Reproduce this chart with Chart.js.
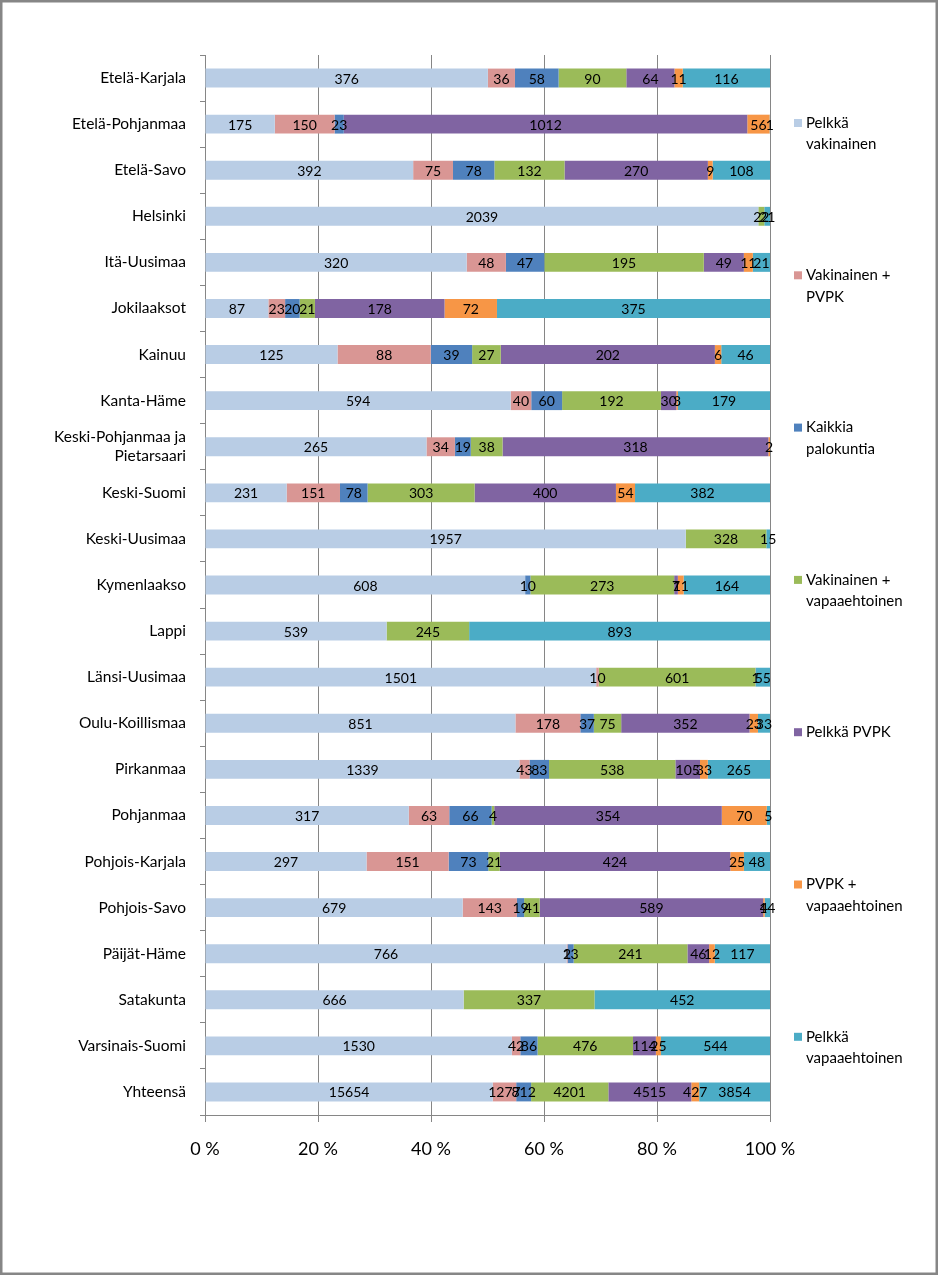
<!DOCTYPE html>
<html>
<head>
<meta charset="utf-8">
<script src="https://cdn.jsdelivr.net/npm/chart.js@4.4.0/dist/chart.umd.min.js"></script>
<style>
  html, body { margin: 0; padding: 0; background: #ffffff; }
  #wrap { position: relative; width: 939px; height: 1276px; }
  canvas { display: block; }
</style>
</head>
<body>
<div id="wrap"><canvas id="c" width="939" height="1276"></canvas></div>
<script>
// ---- Data ----
const categories = [
  "Etelä-Karjala", "Etelä-Pohjanmaa", "Etelä-Savo", "Helsinki", "Itä-Uusimaa",
  "Jokilaaksot", "Kainuu", "Kanta-Häme", ["Keski-Pohjanmaa ja", "Pietarsaari"],
  "Keski-Suomi", "Keski-Uusimaa", "Kymenlaakso", "Lappi", "Länsi-Uusimaa",
  "Oulu-Koillismaa", "Pirkanmaa", "Pohjanmaa", "Pohjois-Karjala", "Pohjois-Savo",
  "Päijät-Häme", "Satakunta", "Varsinais-Suomi", "Yhteensä"
];

const seriesNames = [
  "Pelkkä vakinainen",
  "Vakinainen + PVPK",
  "Kaikkia palokuntia",
  "Vakinainen + vapaaehtoinen",
  "Pelkkä PVPK",
  "PVPK + vapaaehtoinen",
  "Pelkkä vapaaehtoinen"
];

const pelkkaVakinainen = [376, 175, 392, 2039, 320, 87, 125, 594, 265, 231, 1957, 608, 539, 1501, 851, 1339, 317, 297, 679, 766, 666, 1530, 15654];
const vakinainenPvpk = [36, 150, 75, null, 48, 23, 88, 40, 34, 151, null, null, null, 10, 178, 43, 63, 151, 143, 2, null, 42, 1277];
const kaikkiaPalokuntia = [58, 23, 78, null, 47, 20, 39, 60, 19, 78, null, 10, null, null, 37, 83, 66, 73, 19, 13, null, 86, 812];
const vakinainenVapaaehtoinen = [90, null, 132, 22, 195, 21, 27, 192, 38, 303, 328, 273, 245, 601, 75, 538, 4, 21, 41, 241, 337, 476, 4201];
const pelkkaPvpk = [64, 1012, 270, null, 49, 178, 202, 30, 318, 400, null, 7, null, 1, 352, 105, 354, 424, 589, 46, null, 114, 4515];
const pvpkVapaaehtoinen = [11, 56, 9, null, 11, 72, 6, 3, 2, 54, null, 11, null, null, 23, 33, 70, 25, 4, 12, null, 25, 427];
const pelkkaVapaaehtoinen = [116, 1, 108, 21, 21, 375, 46, 179, null, 382, 15, 164, 893, 55, 33, 265, 5, 48, 14, 117, 452, 544, 3854];

const xTicks = [0, 20, 40, 60, 80, 100];

// ---- Styles ----
const colors = ["#B9CDE5", "#D99694", "#4F81BD", "#9BBB59", "#8064A2", "#F79646", "#4BACC6"];
const FONT = "Lato, 'Open Sans', sans-serif";
const GRID = "#868686";

const rawSeries = [pelkkaVakinainen, vakinainenPvpk, kaikkiaPalokuntia, vakinainenVapaaehtoinen, pelkkaPvpk, pvpkVapaaehtoinen, pelkkaVapaaehtoinen];
const totals = categories.map((_, i) => rawSeries.reduce((s, arr) => s + (arr[i] || 0), 0));

const datasets = rawSeries.map((arr, d) => ({
  label: seriesNames[d],
  data: arr.map((v, i) => v == null ? null : v / totals[i] * 100),
  raw: arr,
  backgroundColor: colors[d],
  borderWidth: 0,
  barPercentage: 0.41,
  categoryPercentage: 1.0
}));

// data labels inside segments
const valueLabels = {
  id: 'valueLabels',
  afterDatasetsDraw(chart) {
    const ctx = chart.ctx;
    ctx.save();
    ctx.font = "14px " + FONT;
    ctx.fillStyle = "#000";
    ctx.textAlign = "center";
    ctx.textBaseline = "middle";
    chart.data.datasets.forEach((ds, d) => {
      const meta = chart.getDatasetMeta(d);
      meta.data.forEach((el, i) => {
        const v = ds.raw[i];
        if (v == null || v === 0) return;
        const cx = (el.x + el.base) / 2;
        ctx.fillText(String(v), cx, el.y + 1);
      });
    });
    ctx.restore();
  }
};

// wrapped legend on the right + outer frame
function wrapWords(ctx, text, maxW) {
  const words = text.split(" ");
  const lines = [];
  let cur = "";
  words.forEach(w => {
    const t = cur ? cur + " " + w : w;
    if (ctx.measureText(t).width > maxW && cur) { lines.push(cur); cur = w; }
    else cur = t;
  });
  if (cur) lines.push(cur);
  return lines;
}

const sideLegend = {
  id: 'sideLegend',
  afterDraw(chart) {
    const ctx = chart.ctx;
    ctx.save();
    ctx.font = "15px " + FONT;
    ctx.textAlign = "left";
    ctx.textBaseline = "middle";
    const y0 = 123, step = 152.3, boxX = 794, textX = 806;
    chart.data.datasets.forEach((ds, d) => {
      const y = y0 + d * step;
      ctx.fillStyle = ds.backgroundColor;
      ctx.fillRect(boxX, y - 4, 8, 8);
      ctx.fillStyle = "#000";
      const lines = wrapWords(ctx, ds.label, 108);
      lines.forEach((ln, k) => ctx.fillText(ln, textX, y + k * 21.5));
    });
    ctx.strokeStyle = GRID;
    ctx.lineWidth = 2.5;
    ctx.strokeRect(1.25, 1.25, 935.5, 1272.5);
    ctx.restore();
  }
};

Chart.defaults.font.family = FONT;
Chart.defaults.color = "#000";

new Chart(document.getElementById('c'), {
  type: 'bar',
  data: { labels: categories, datasets },
  options: {
    indexAxis: 'y',
    responsive: false,
    animation: false,
    devicePixelRatio: 1,
    layout: { padding: { top: 55, right: 169, left: 0, bottom: 0 } },
    plugins: {
      legend: { display: false },
      tooltip: { enabled: false }
    },
    scales: {
      x: {
        stacked: true,
        min: 0,
        max: 100,
        afterBuildTicks(scale) { scale.ticks = xTicks.map(v => ({ value: v })); },
        ticks: {
          callback: v => v + " %",
          font: { size: 18, family: FONT },
          color: "#000",
          padding: 16,
          maxRotation: 0
        },
        grid: { color: GRID, lineWidth: 1, tickLength: 7, drawTicks: true },
        border: { color: GRID, width: 1 },
        afterFit(scale) { scale.height = 161; }
      },
      y: {
        stacked: true,
        ticks: {
          font: { size: 15.5, family: FONT },
          color: "#000",
          padding: 14,
          autoSkip: false
        },
        grid: { drawOnChartArea: false, drawTicks: true, tickLength: 5, color: GRID, offset: true },
        border: { color: GRID, width: 1 },
        afterFit(scale) { scale.width = 205; }
      }
    }
  },
  plugins: [valueLabels, sideLegend]
});
</script>
</body>
</html>
